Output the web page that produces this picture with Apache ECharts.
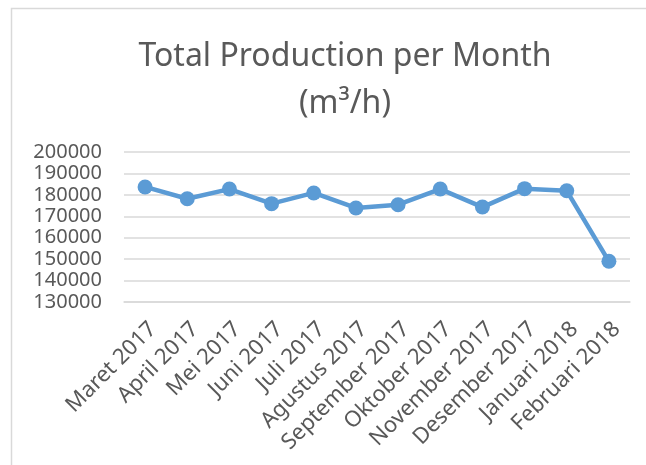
<!DOCTYPE html>
<html>
<head>
<meta charset="utf-8">
<script src="https://cdn.jsdelivr.net/npm/echarts@6/dist/echarts.min.js"></script>
<style>html,body{margin:0;padding:0;background:#fff}#c{width:646px;height:465px}</style>
</head>
<body>
<div id="c"></div>
<script>
const categories = ["Maret 2017","April 2017","Mei 2017","Juni 2017","Juli 2017","Agustus 2017","September 2017","Oktober 2017","November 2017","Desember 2017","Januari 2018","Februari 2018"];
const production = [183700,178200,182700,175900,180900,173900,175400,182700,174300,182900,181900,149000];
const yTicks = {min:130000, max:200000, interval:10000};
const titleText = "Total Production per Month\n(m³/h)";

const FONT = "Noto Sans";
const chart = echarts.init(document.getElementById('c'), null, {renderer:'canvas'});
chart.setOption({
  backgroundColor:'#fff',
  animation:false,
  graphic:[{type:'rect', shape:{x:11.5,y:8.5,width:700,height:500}, style:{fill:'none', stroke:'#d9d9d9', lineWidth:1.5}, silent:true}],
  title:{text:titleText, left:340, top:28, textAlign:'center',
    textStyle:{fontFamily:FONT, fontSize:32, fontWeight:'normal', color:'#595959', lineHeight:47}},
  grid:{left:124, right:16, top:152, bottom:163, containLabel:false},
  xAxis:{type:'category', data:categories, boundaryGap:true,
    axisLine:{show:true, lineStyle:{color:'#d9d9d9', width:1.5}},
    axisTick:{show:false},
    axisLabel:{rotate:45, interval:0, margin:16, verticalAlign:'top', fontFamily:FONT, fontSize:22, color:'#595959'}},
  yAxis:{type:'value', min:yTicks.min, max:yTicks.max, interval:yTicks.interval,
    axisLine:{show:false}, axisTick:{show:false},
    axisLabel:{margin:22, fontFamily:FONT, fontSize:20, color:'#595959', formatter:function(v){return String(v);}},
    splitLine:{lineStyle:{color:'#d9d9d9', width:1.5}}},
  series:[{type:'line', data:production, symbol:'circle', symbolSize:15,
    lineStyle:{color:'#5b9bd5', width:4.5}, itemStyle:{color:'#5b9bd5'}}]
});
</script>
</body>
</html>
